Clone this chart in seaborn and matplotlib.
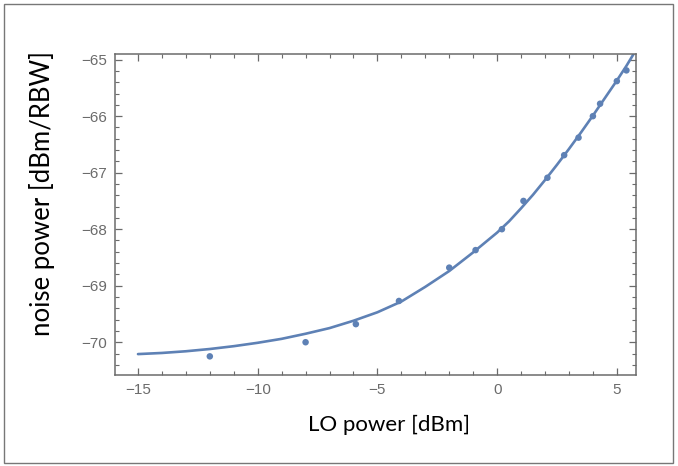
import numpy as np
import pandas as pd
import matplotlib
matplotlib.use("Agg")
import matplotlib.pyplot as plt
import seaborn as sns
from matplotlib.patches import Rectangle
from matplotlib.ticker import MultipleLocator

lo_power = [-12.0, -8.0, -5.9, -4.1, -2.0, -0.9, 0.2, 1.1, 2.1, 2.8, 3.4, 4.0, 4.3, 5.0, 5.4]
noise_power = [-70.25, -70.0, -69.68, -69.27, -68.68, -68.37, -68.0, -67.5, -67.09,
               -66.69, -66.38, -66.0, -65.78, -65.38, -65.19]

# fitted curve
fit_x = [-15, -14, -13, -12, -11, -10, -9, -8, -7, -6, -5, -4, -3, -2, -1,
         0, 0.5, 1, 1.5, 2, 2.5, 3, 3.5, 4, 4.5, 5, 5.4, 5.7]
fit_y = [-70.21, -70.19, -70.16, -70.12, -70.07, -70.01, -69.94, -69.85, -69.75, -69.62,
         -69.47, -69.28, -69.02, -68.74, -68.41, -68.06, -67.86, -67.63, -67.39, -67.13,
         -66.86, -66.58, -66.29, -65.99, -65.68, -65.37, -65.11, -64.9]

pts = pd.DataFrame({"lo": lo_power, "noise": noise_power})
fit = pd.DataFrame({"lo": fit_x, "noise": fit_y})

sns.set_theme(style="ticks")
plt.rcParams['font.family'] = ['Liberation Sans', 'DejaVu Sans']

blue = "#5E81B5"
gray = "#6b6b6b"

fig = plt.figure(figsize=(6.78, 4.66), dpi=100)
ax = fig.add_axes([115 / 678, 1 - 375 / 466, (636 - 115) / 678, (375 - 54) / 466])

sns.lineplot(data=fit, x="lo", y="noise", ax=ax, color=blue, lw=1.9, sort=False)
sns.scatterplot(data=pts, x="lo", y="noise", ax=ax, color=blue, s=22, edgecolor="none", zorder=3)

ax.xaxis.set_major_locator(MultipleLocator(5))
ax.xaxis.set_minor_locator(MultipleLocator(1))
ax.yaxis.set_major_locator(MultipleLocator(1))
ax.yaxis.set_minor_locator(MultipleLocator(0.2))
ax.tick_params(which="both", direction="in", top=True, right=True, color=gray,
               labelcolor=gray, labelsize=11)
ax.tick_params(which="major", length=5, width=0.9, pad=6)
ax.tick_params(which="minor", length=2.7, width=0.8)
ax.set_xlim(-15.96, 5.8)
ax.set_ylim(-70.58, -64.9)
ax.set_xticks([-15, -10, -5, 0, 5])
ax.set_xticklabels(["\u221215", "\u221210", "\u22125", "0", "5"])
ax.set_yticks([-70, -69, -68, -67, -66, -65])
ax.set_yticklabels(["\u221270", "\u221269", "\u221268", "\u221267", "\u221266", "\u221265"])
ax.set_xlim(-15.96, 5.8)
ax.set_ylim(-70.58, -64.9)
for s in ax.spines.values():
    s.set_color(gray)
    s.set_linewidth(1.1)
ax.set_xlabel("")
ax.set_ylabel("")

fig.text(389 / 678, 1 - 425 / 466, "LO power [dBm]", ha="center", va="center",
         fontsize=16, color="black", family=["Lato", "DejaVu Sans"])
fig.text(42 / 678, 1 - 194 / 466, "noise power [dBm/RBW]", ha="center", va="center",
         rotation=90, fontsize=18.5, color="black", family=["Lato", "DejaVu Sans"])

fig.patches.append(Rectangle((4 / 678, 3 / 466), 669 / 678, 459 / 466, transform=fig.transFigure,
                             fill=False, edgecolor="#777777", lw=1.0))

fig.savefig("out.png", dpi=100)
